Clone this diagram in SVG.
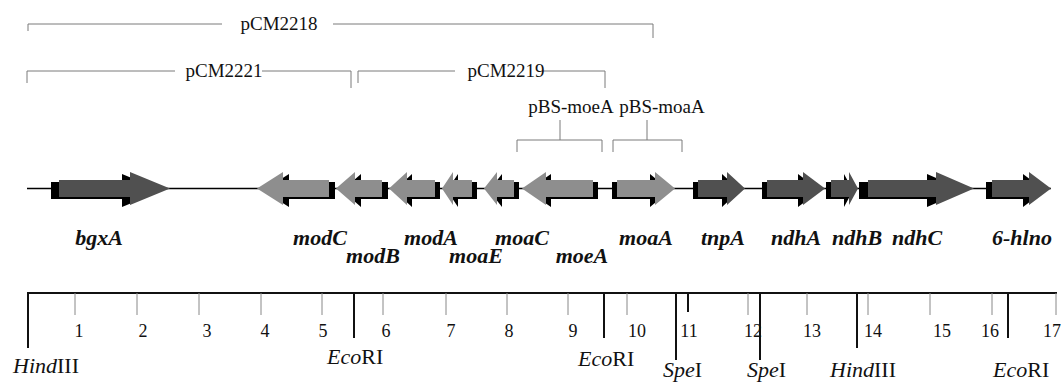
<svg xmlns="http://www.w3.org/2000/svg" width="1061" height="383" viewBox="0 0 1061 383">
<style>
.br{fill:none;stroke:#7a7a7a;stroke-width:1}
.pl{font-family:"Liberation Serif",serif;font-size:19px;fill:#111}
.gl{font-family:"Liberation Serif",serif;font-size:22px;font-weight:bold;font-style:italic;fill:#111;text-anchor:middle}
.sh{fill:#000}
.dk{fill:#505050}
.lt{fill:#8e8e8e}
.bb{stroke:#000;stroke-width:1.5}
.mn{stroke:#888;stroke-width:1}
.mj{stroke:#111;stroke-width:2}
.num{font-family:"Liberation Serif",serif;font-size:18px;fill:#111;text-anchor:middle}
.rs{font-family:"Liberation Serif",serif;font-size:22px;fill:#111}
</style>
<rect width="1061" height="383" fill="#fff"/>
<g id="connectors">
<polyline class="br" points="28,31 28,24 222,24"/>
<polyline class="br" points="333,24 653,24 653,38"/>
<polyline class="br" points="27,83 27,71 175,71"/>
<polyline class="br" points="262,71 351,71 351,88"/>
<polyline class="br" points="358,83 358,71 455,71"/>
<polyline class="br" points="543,71 605,71 605,88"/>
<polyline class="br" points="517,152 517,140 602,140 602,152"/>
<line class="br" x1="560" y1="120" x2="560" y2="140"/>
<polyline class="br" points="613,152 613,140 682,140 682,152"/>
<line class="br" x1="647" y1="120" x2="647" y2="140"/>
<line class="bb" x1="27" y1="188.5" x2="1051" y2="188.5"/>
</g>
<g id="plasmids">
<text class="pl" x="279" y="30" text-anchor="middle">pCM2218</text>
<text class="pl" x="224" y="77" text-anchor="middle">pCM2221</text>
<text class="pl" x="506" y="77" text-anchor="middle">pCM2219</text>
<text class="pl" x="571" y="113" text-anchor="middle" font-size="18">pBS-moeA</text>
<text class="pl" x="662" y="113" text-anchor="middle" font-size="18">pBS-moaA</text>
</g>
<g id="bgxA"><polygon class="sh" points="51,182 122,182 122,174 162,190.5 122,207 122,199 51,199"/><polygon class="dk" points="59,180 130,180 130,172 170,188.5 130,205 130,197 59,197"/><text class="gl" x="99" y="245">bgxA</text></g>
<g id="modC"><polygon class="sh" points="263,190.5 289,174 289,182 335,182 335,199 289,199 289,207"/><polygon class="lt" points="257,188.5 283,172 283,180 329,180 329,197 283,197 283,205"/><text class="gl" x="320" y="245">modC</text></g>
<g id="modB"><polygon class="sh" points="342,190.5 361,174 361,182 388,182 388,199 361,199 361,207"/><polygon class="lt" points="336,188.5 355,172 355,180 382,180 382,197 355,197 355,205"/><text class="gl" x="373" y="263">modB</text></g>
<g id="modA"><polygon class="sh" points="394,190.5 412,174 412,182 440,182 440,199 412,199 412,207"/><polygon class="lt" points="389,188.5 407,172 407,180 435,180 435,197 407,197 407,205"/><text class="gl" x="431" y="245">modA</text></g>
<g id="moaE"><polygon class="sh" points="447,190.5 458,174 458,182 477,182 477,199 458,199 458,207"/><polygon class="lt" points="442,188.5 453,172 453,180 472,180 472,197 453,197 453,205"/><text class="gl" x="476" y="263">moaE</text></g>
<g id="moaC"><polygon class="sh" points="489,190.5 502,174 502,182 519,182 519,199 502,199 502,207"/><polygon class="lt" points="484,188.5 497,172 497,180 514,180 514,197 497,197 497,205"/><text class="gl" x="522" y="245">moaC</text></g>
<g id="moeA"><polygon class="sh" points="527,190.5 551,174 551,182 598,182 598,199 551,199 551,207"/><polygon class="lt" points="522,188.5 546,172 546,180 593,180 593,197 546,197 546,205"/><text class="gl" x="582" y="263">moeA</text></g>
<g id="moaA"><polygon class="sh" points="612,182 650,182 650,174 670,190.5 650,207 650,199 612,199"/><polygon class="lt" points="617,180 655,180 655,172 675,188.5 655,205 655,197 617,197"/><text class="gl" x="646" y="245">moaA</text></g>
<g id="tnpA"><polygon class="sh" points="693,182 722,182 722,174 740,190.5 722,207 722,199 693,199"/><polygon class="dk" points="698,180 727,180 727,172 745,188.5 727,205 727,197 698,197"/><text class="gl" x="723" y="245">tnpA</text></g>
<g id="ndhA"><polygon class="sh" points="762,182 798,182 798,174 820,190.5 798,207 798,199 762,199"/><polygon class="dk" points="767,180 803,180 803,172 825,188.5 803,205 803,197 767,197"/><text class="gl" x="796" y="245">ndhA</text></g>
<g id="ndhB"><polygon class="sh" points="826,182 844,182 844,174 853,190.5 844,207 844,199 826,199"/><polygon class="dk" points="831,180 849,180 849,172 858,188.5 849,205 849,197 831,197"/><text class="gl" x="857" y="245">ndhB</text></g>
<g id="ndhC"><polygon class="sh" points="859,182 927,182 927,174 965,190.5 927,207 927,199 859,199"/><polygon class="dk" points="868,180 936,180 936,172 974,188.5 936,205 936,197 868,197"/><text class="gl" x="917" y="245">ndhC</text></g>
<g id="6-hlno"><polygon class="sh" points="986,182 1023,182 1023,174 1045,190.5 1023,207 1023,199 986,199"/><polygon class="dk" points="992,180 1029,180 1029,172 1051,188.5 1029,205 1029,197 992,197"/><text class="gl" x="1022" y="245">6-hlno</text></g>
<g id="scale">
<line class="mj" x1="28" y1="293" x2="1057" y2="293"/>
<g class="mn">
<line x1="75" y1="293" x2="75" y2="315"/><line x1="137" y1="293" x2="137" y2="315"/><line x1="199" y1="293" x2="199" y2="315"/><line x1="261" y1="293" x2="261" y2="315"/><line x1="322" y1="293" x2="322" y2="315"/><line x1="383" y1="293" x2="383" y2="315"/><line x1="446" y1="293" x2="446" y2="315"/><line x1="507" y1="293" x2="507" y2="315"/><line x1="568" y1="293" x2="568" y2="315"/><line x1="627" y1="293" x2="627" y2="315"/><line x1="748" y1="293" x2="748" y2="315"/><line x1="807" y1="293" x2="807" y2="315"/><line x1="868" y1="293" x2="868" y2="315"/><line x1="930" y1="293" x2="930" y2="315"/><line x1="992" y1="293" x2="992" y2="315"/><line x1="1056" y1="293" x2="1056" y2="315"/>
</g>
<g class="mj">
<line x1="28" y1="292" x2="28" y2="348"/><line x1="354" y1="293" x2="354" y2="338"/><line x1="604" y1="293" x2="604" y2="338"/><line x1="676" y1="293" x2="676" y2="360"/><line x1="688" y1="293" x2="688" y2="312"/><line x1="760" y1="293" x2="760" y2="360"/><line x1="857" y1="293" x2="857" y2="348"/><line x1="1008" y1="293" x2="1008" y2="338"/>
</g>
<text class="num" x="79" y="337">1</text><text class="num" x="143" y="337">2</text><text class="num" x="207" y="337">3</text><text class="num" x="265" y="337">4</text><text class="num" x="323" y="337">5</text><text class="num" x="386" y="337">6</text><text class="num" x="451" y="337">7</text><text class="num" x="509" y="337">8</text><text class="num" x="573" y="337">9</text><text class="num" x="637" y="337">10</text><text class="num" x="689" y="337">11</text><text class="num" x="753" y="337">12</text><text class="num" x="812" y="337">13</text><text class="num" x="873" y="337">14</text><text class="num" x="942" y="337">15</text><text class="num" x="990" y="337">16</text><text class="num" x="1052" y="337">17</text>
<text class="rs" x="13" y="373"><tspan font-style="italic">Hind</tspan>III</text>
<text class="rs" x="327" y="364"><tspan font-style="italic">Eco</tspan>RI</text>
<text class="rs" x="578" y="366"><tspan font-style="italic">Eco</tspan>RI</text>
<text class="rs" x="663" y="377" font-size="21"><tspan font-style="italic">Spe</tspan>I</text>
<text class="rs" x="747" y="377"><tspan font-style="italic">Spe</tspan>I</text>
<text class="rs" x="830" y="377"><tspan font-style="italic">Hind</tspan>III</text>
<text class="rs" x="993" y="377"><tspan font-style="italic">Eco</tspan>RI</text>
</g>
</svg>
